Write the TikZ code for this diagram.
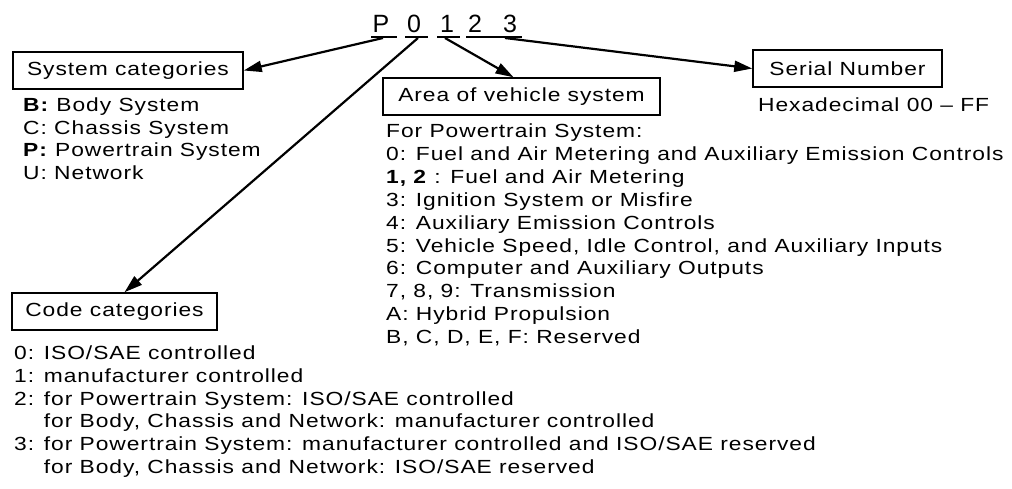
\documentclass[tikz,border=0pt]{standalone}
\usepackage{fontspec}
\setmainfont{Liberation Sans}[FakeStretch=1.2,LetterSpace=5]
\newfontfamily\topfont{Liberation Sans}
\usetikzlibrary{arrows.meta}
\begin{document}
\begin{tikzpicture}[x=1pt,y=-1pt,
  box/.style={draw,line width=1.5pt,inner sep=0pt,minimum height=37pt,font=\fontsize{19}{22}\selectfont},
  txt/.style={anchor=base west,inner sep=0pt,font=\fontsize{19}{22}\selectfont},
  digit/.style={anchor=base,inner sep=0pt,font=\topfont\fontsize{25}{25}\selectfont},
  arr/.style={line width=2.2pt,-{Triangle[length=18pt,width=11pt]}},
  uline/.style={line width=1.8pt}]
\useasboundingbox (0,0) rectangle (1012,489);
% code letters
\node[digit] (cP) at (381,33) {P};
\node[digit] (c0) at (414,33) {0};
\node[digit] (c1) at (447,33) {1};
\node[digit] (c2) at (475,33) {2};
\node[digit] (c3) at (510,33) {3};
\coordinate (uPa) at (371,37); \coordinate (uPb) at (397,37);
\coordinate (u0a) at (405,37); \coordinate (u0b) at (428,37);
\coordinate (u1a) at (437,37); \coordinate (u1b) at (460,37);
\coordinate (u3a) at (466,37); \coordinate (u3b) at (522,37);
\draw[uline] (uPa) -- (uPb);
\draw[uline] (u0a) -- (u0b);
\draw[uline] (u1a) -- (u1b);
\draw[uline] (u3a) -- (u3b);
\coordinate (sP) at (383,38);
\coordinate (s0) at (418,38);
\coordinate (s1) at (445,38);
\coordinate (s3) at (505,38);
% boxes
\node[box,minimum width=230pt] (sys) at (128,70.5) {System categories};
\node[box,minimum width=277pt] (area) at (521.5,96.5) {Area of vehicle system};
\node[box,minimum width=189pt] (ser) at (847.5,68.5) {Serial Number};
\node[box,minimum width=205pt] (code) at (114.5,311.5) {Code categories};
% arrows
\draw[arr] (sP) -- (sys.east);
\draw[arr] (s0) -- ([xshift=10pt]code.north);
\draw[arr] (s1) -- ([xshift=-8pt]area.north);
\draw[arr] (s3) -- (ser.west);
% system list
\node[txt] (b1) at (23,112) {\textbf{B:} Body System};
\node[txt] (b2) at (23,134.5) {C: Chassis System};
\node[txt] (b3) at (23,157) {\textbf{P:} Powertrain System};
\node[txt] (b4) at (23,179.5) {U: Network};
% serial
\node[txt] (hx) at (758,112) {Hexadecimal 00 -- FF};
% area list
\node[txt] (a0) at (386,138) {For Powertrain System:};
\node[txt] (a1) at (386,160.8) {0: Fuel and Air Metering and Auxiliary Emission Controls};
\node[txt] (a2) at (386,183.6) {\textbf{1, 2} : Fuel and Air Metering};
\node[txt] (a3) at (386,206.4) {3: Ignition System or Misfire};
\node[txt] (a4) at (386,229.2) {4: Auxiliary Emission Controls};
\node[txt] (a5) at (386,252) {5: Vehicle Speed, Idle Control, and Auxiliary Inputs};
\node[txt] (a6) at (386,274.8) {6: Computer and Auxiliary Outputs};
\node[txt] (a7) at (386,297.6) {7, 8, 9: Transmission};
\node[txt] (a8) at (386,320.4) {A: Hybrid Propulsion};
\node[txt] (a9) at (386,343.2) {B, C, D, E, F: Reserved};
% code list
\node[txt] (k1) at (14,359) {0: ISO/SAE controlled};
\node[txt] (k2) at (14,382) {1: manufacturer controlled};
\node[txt] (k3) at (14,405) {2: for Powertrain System: ISO/SAE controlled};
\node[txt] (k4) at (14,427.5) {\phantom{2: }for Body, Chassis and Network: manufacturer controlled};
\node[txt] (k5) at (14,450) {3: for Powertrain System: manufacturer controlled and ISO/SAE reserved};
\node[txt] (k6) at (14,473) {\phantom{3: }for Body, Chassis and Network: ISO/SAE reserved};
\end{tikzpicture}
\end{document}
